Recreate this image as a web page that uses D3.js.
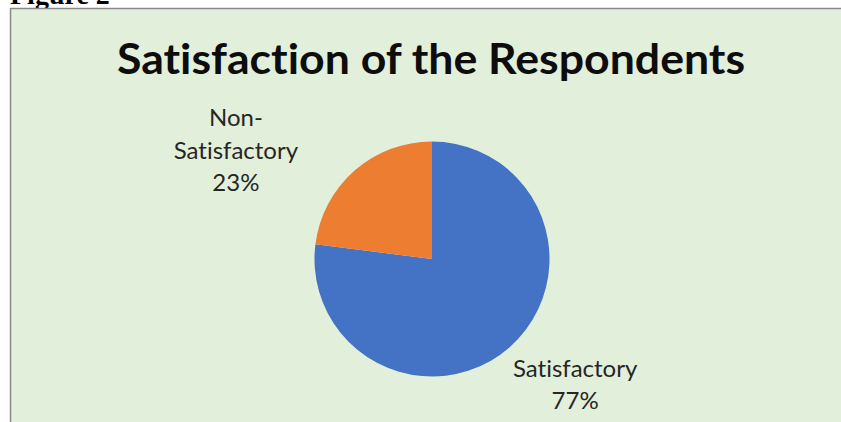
<!DOCTYPE html>
<html>
<head>
<meta charset="utf-8">
<script src="https://cdn.jsdelivr.net/npm/d3@7"></script>
<style>
  html, body { margin: 0; padding: 0; background: #ffffff; }
  svg { display: block; }
  text { font-variant-ligatures: none; font-feature-settings: "liga" 0, "clig" 0; }
</style>
</head>
<body>
<svg id="chart" width="841" height="422"></svg>
<script>
// Survey result: share of respondents by satisfaction
const categories = ["Satisfactory", "Non-Satisfactory"];
const values = [77, 23];
const labelLines = [["Satisfactory"], ["Non-", "Satisfactory"]];
const colors = ["#4472C4", "#ED7D31"];
const titleText = "Satisfaction of the Respondents";
const captionText = "Figure 2";

const W = 841, H = 422;
const svg = d3.select("#chart");

// Caption above the chart frame (runs off the page top)
svg.append("text")
  .attr("x", 10)
  .attr("y", 4)
  .attr("font-family", "'Liberation Serif', 'DejaVu Serif', serif")
  .attr("font-weight", "bold")
  .attr("font-size", 28)
  .attr("fill", "#000")
  .text(captionText);

// Chart frame
svg.append("rect")
  .attr("x", 10.5)
  .attr("y", 8.5)
  .attr("width", W + 20)
  .attr("height", H + 20)
  .attr("fill", "#E2EFDA")
  .attr("stroke", "#8a8a8a")
  .attr("stroke-width", 1.5);

// Title
svg.append("text")
  .attr("x", 431)
  .attr("y", 74)
  .attr("text-anchor", "middle")
  .attr("font-family", "Lato, 'Open Sans', sans-serif")
  .attr("font-weight", "bold")
  .attr("font-size", 42)
  .attr("fill", "#0d0d0d")
  .attr("textLength", 628)
  .attr("lengthAdjust", "spacingAndGlyphs")
  .text(titleText);

// Pie
const cx = 432, cy = 259, radius = 117.5;
const data = categories.map((c, i) => ({ category: c, value: values[i], index: i }));
const pie = d3.pie().value(d => d.value).sort(null);
const arcs = pie(data);
const arc = d3.arc().innerRadius(0).outerRadius(radius);

const g = svg.append("g").attr("transform", `translate(${cx},${cy})`);
g.selectAll("path")
  .data(arcs)
  .join("path")
  .attr("d", arc)
  .attr("fill", d => colors[d.data.index]);

// Data labels: placed outside the slice along its mid-angle, then
// shifted so the label block clears the pie edge
const labelArc = d3.arc().innerRadius(165).outerRadius(165);
const nudges = [[34, -6], [-87, -9]];
const lineHeight = 32.4;

arcs.forEach((a, i) => {
  const [lx, ly] = labelArc.centroid(a);
  const lines = labelLines[i].concat([d3.format(".0%")(a.data.value / d3.sum(values))]);
  const t = g.append("text")
    .attr("text-anchor", "middle")
    .attr("font-family", "Lato, 'Open Sans', sans-serif")
    .attr("font-size", 24)
    .attr("fill", "#262626");
  const x0 = lx + nudges[i][0];
  const yTop = ly + nudges[i][1];
  lines.forEach((line, k) => {
    t.append("tspan")
      .attr("x", x0)
      .attr("y", yTop + k * lineHeight)
      .text(line);
  });
});
</script>
</body>
</html>
